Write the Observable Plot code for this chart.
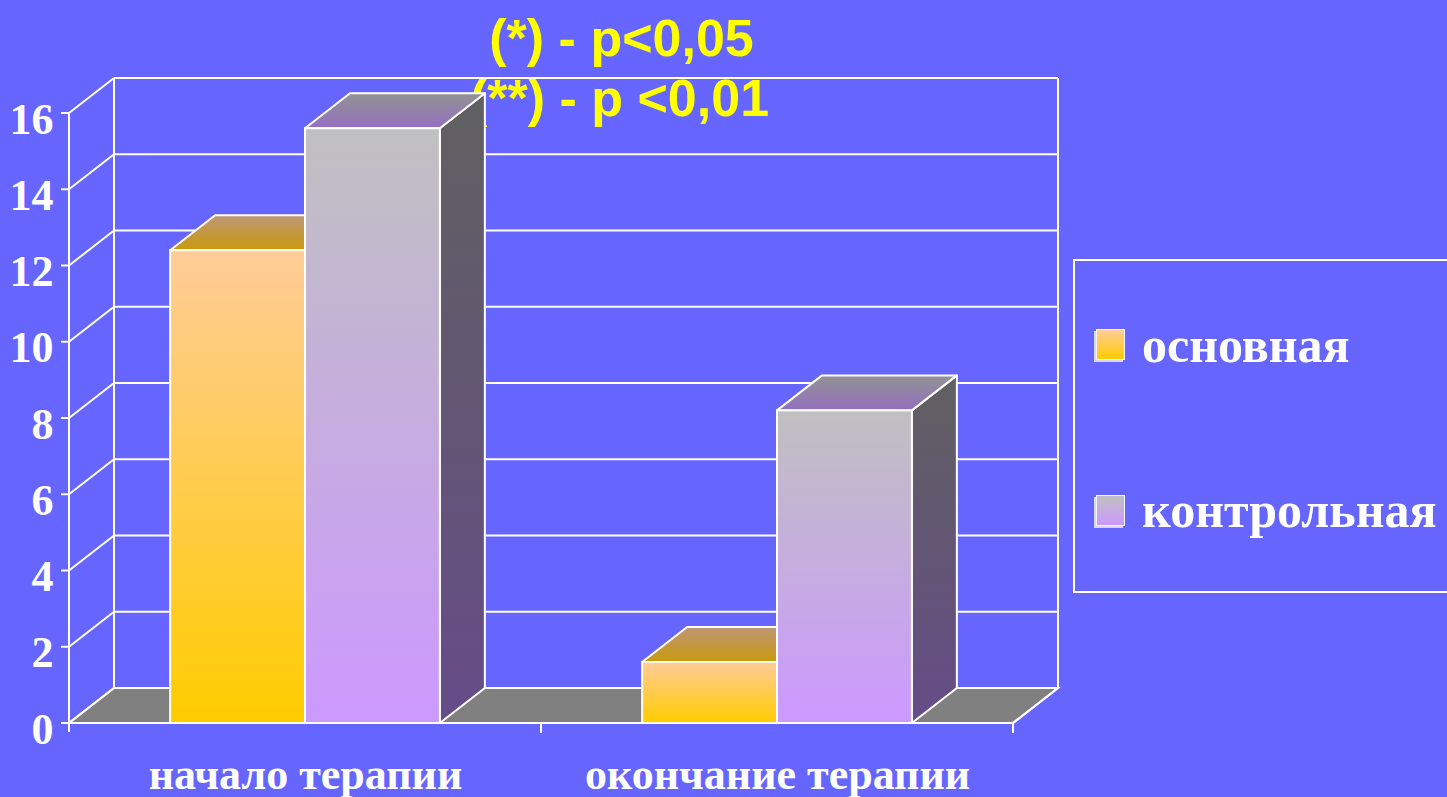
<!DOCTYPE html>
<html lang="ru">
<head>
<meta charset="utf-8">
<title>Основная и контрольная группы: начало и окончание терапии</title>
<script src="https://cdn.jsdelivr.net/npm/d3@7"></script>
<script src="https://cdn.jsdelivr.net/npm/@observablehq/plot@0.6"></script>
<style>
  html, body { margin: 0; padding: 0; background: #6666FF; overflow: hidden; }
  #chart { position: relative; width: 1447px; height: 797px; }
  #chart svg { display: block; }
  .legend {
    position: absolute; left: 1073px; top: 259px; width: 400px; height: 334px;
    border: 2px solid #ffffff; box-sizing: border-box;
    font-family: "Liberation Serif", "Times New Roman", serif; font-weight: bold;
    font-size: 50px; line-height: 50px; color: #ffffff;
  }
  .legend .swatch {
    position: absolute; left: 21px; width: 27px; height: 29px;
    border: 1.5px solid #f4f4ff; box-shadow: -2px 2px 0 rgba(255,255,255,0.75);
  }
  .legend .label { position: absolute; left: 67px; white-space: nowrap; }
</style>
</head>
<body>
<div id="chart"></div>
<script>
// Categories, groups and measured values
const phases = ["начало терапии", "окончание терапии"];
const groups = ["основная", "контрольная"];
const mainGroup = [12.4, 1.6];
const controlGroup = [15.6, 8.2];
const yTicks = [0, 2, 4, 6, 8, 10, 12, 14, 16];
const notes = ["(*) - p<0,05", "(**) - p <0,01"];

// Look of the pseudo-3D columns
const palettes = {
  "основная": {front: ["#FFCC99", "#FFCC00"], top: ["#BE9676", "#C99A0C"], side: ["#7F6040", "#806600"], edge: "#FFFFE6"},
  "контрольная": {front: ["#C0C0C0", "#CC99FF"], top: ["#929292", "#9370C0"], side: ["#606060", "#664C88"], edge: "#FFFFFF"}
};
const depth = {dx: 45, dy: -35};      // oblique offset of the back plane
const gapWidth = 1.5;                 // gap between groups, in column widths
const serif = "Liberation Serif, Times New Roman, serif";
const sans = "Liberation Sans, Arial, sans-serif";

const valuesOf = {"основная": mainGroup, "контрольная": controlGroup};
const rowsFor = (group) => phases.map((phase, i) => ({phase, group, value: valuesOf[group][i]}));

function bandwidthOf(scale) {
  const bw = scale.bandwidth;
  return typeof bw === "function" ? bw() : bw;
}

// Walls, floor, gridlines and the front axis, drawn from the tick values
const chartBox = Plot.ruleY(yTicks, {
  render(index, scales, values, dims) {
    const {dx, dy} = depth;
    const xl = dims.marginLeft, xr = dims.width - dims.marginRight;
    const ys = Array.from(index, (i) => values.y[i]);
    const y0 = scales.y(d3.min(yTicks)), yTop = scales.y(d3.max(yTicks));
    const g = d3.create("svg:g").attr("stroke", "#ffffff").attr("stroke-width", 2).attr("fill", "none");
    g.append("path").attr("fill", "#808080")
      .attr("d", `M${xl},${y0}L${xr},${y0}L${xr + dx},${y0 + dy}L${xl + dx},${y0 + dy}Z`);
    for (const y of ys) {
      g.append("line").attr("x1", xl + dx).attr("x2", xr + dx).attr("y1", y + dy).attr("y2", y + dy);
      g.append("line").attr("x1", xl).attr("x2", xl + dx).attr("y1", y).attr("y2", y + dy);
      g.append("line").attr("x1", xl - 8).attr("x2", xl).attr("y1", y).attr("y2", y);
    }
    g.append("line").attr("x1", xl + dx).attr("x2", xl + dx).attr("y1", y0 + dy).attr("y2", yTop + dy);
    g.append("line").attr("x1", xr + dx).attr("x2", xr + dx).attr("y1", y0 + dy).attr("y2", yTop + dy);
    g.append("line").attr("x1", xl).attr("x2", xl).attr("y1", yTop).attr("y2", y0 + 9);
    const bw = bandwidthOf(scales.x);
    for (const p of phases) {
      const xe = scales.x(p) + bw;
      g.append("line").attr("x1", xe).attr("x2", xe).attr("y1", y0).attr("y2", y0 + 10);
    }
    g.append("line").attr("x1", xr).attr("x2", xr + dx).attr("y1", y0).attr("y2", y0 + dy);
    return g.node();
  }
});

// One group of columns, drawn as front, top and side faces
function columns3d(group, slot) {
  const pal = palettes[group];
  const id = "col" + slot;
  return Plot.barY(rowsFor(group), {
    x: "phase",
    y: "value",
    render(index, scales, values) {
      const {dx, dy} = depth;
      const bw = bandwidthOf(scales.x);
      const w = bw / (groups.length + gapWidth);
      const offset = w * gapWidth / 2 + slot * w;
      const g = d3.create("svg:g");
      const defs = g.append("defs");
      for (const face of ["front", "top", "side"]) {
        const lg = defs.append("linearGradient").attr("id", `${id}-${face}`)
          .attr("x1", 0).attr("y1", 0).attr("x2", 0).attr("y2", 1);
        lg.append("stop").attr("offset", 0).attr("stop-color", pal[face][0]);
        lg.append("stop").attr("offset", 1).attr("stop-color", pal[face][1]);
      }
      for (const i of index) {
        const x1 = values.x[i] + offset, x2 = x1 + w;
        const yb = Math.max(values.y1[i], values.y2[i]);
        const yt = Math.min(values.y1[i], values.y2[i]);
        g.append("path").attr("fill", `url(#${id}-side)`).attr("stroke", "#ffffff").attr("stroke-width", 2)
          .attr("stroke-linejoin", "round")
          .attr("d", `M${x2},${yb}L${x2 + dx},${yb + dy}L${x2 + dx},${yt + dy}L${x2},${yt}Z`);
        g.append("path").attr("fill", `url(#${id}-top)`).attr("stroke", "#ffffff").attr("stroke-width", 2)
          .attr("stroke-linejoin", "round")
          .attr("d", `M${x1},${yt}L${x1 + dx},${yt + dy}L${x2 + dx},${yt + dy}L${x2},${yt}Z`);
        g.append("rect").attr("fill", `url(#${id}-front)`).attr("stroke", pal.edge).attr("stroke-width", 2)
          .attr("x", x1).attr("y", yt).attr("width", w).attr("height", yb - yt);
      }
      return g.node();
    }
  });
}

const plot = Plot.plot({
  width: 1447,
  height: 797,
  marginLeft: 69,
  marginRight: 434,
  marginTop: 113,
  marginBottom: 74,
  style: {background: "#6666FF", overflow: "visible"},
  x: {type: "band", domain: phases, padding: 0, axis: null},
  y: {domain: [0, 16], axis: null},
  marks: [
    Plot.text([notes[0]], {text: (d) => d, frameAnchor: "top", dx: 80, dy: -58, lineAnchor: "bottom",
      fill: "#FFFF00", fontSize: 52, fontWeight: "bold", fontFamily: sans}),
    Plot.text([notes[1]], {text: (d) => d, frameAnchor: "top", dx: 78, dy: 2, lineAnchor: "bottom",
      fill: "#FFFF00", fontSize: 52, fontWeight: "bold", fontFamily: sans}),
    chartBox,
    ...groups.map((g, i) => columns3d(g, i)),
    Plot.text(yTicks, {y: (d) => d, text: (d) => String(d), frameAnchor: "left", textAnchor: "end",
      dx: -16, dy: 20, lineAnchor: "bottom", fill: "#ffffff", fontSize: 44, fontWeight: "bold", fontFamily: serif}),
    Plot.text(phases, {x: (d) => d, text: (d) => d, frameAnchor: "bottom", lineAnchor: "bottom", dy: 65,
      fill: "#ffffff", fontSize: 44, fontWeight: "bold", fontFamily: serif})
  ]
});

const chart = document.getElementById("chart");
chart.appendChild(plot);

// Legend: one entry per group
const legend = document.createElement("div");
legend.className = "legend";
const swatchTops = [68, 234];
const labelTops = [59, 224];
groups.forEach((g, i) => {
  const sw = document.createElement("span");
  sw.className = "swatch";
  sw.style.top = swatchTops[i] + "px";
  sw.style.background = `linear-gradient(${palettes[g].front[0]}, ${palettes[g].front[1]})`;
  const lb = document.createElement("span");
  lb.className = "label";
  lb.style.top = labelTops[i] + "px";
  lb.textContent = g;
  legend.append(sw, lb);
});
chart.appendChild(legend);
</script>
</body>
</html>
